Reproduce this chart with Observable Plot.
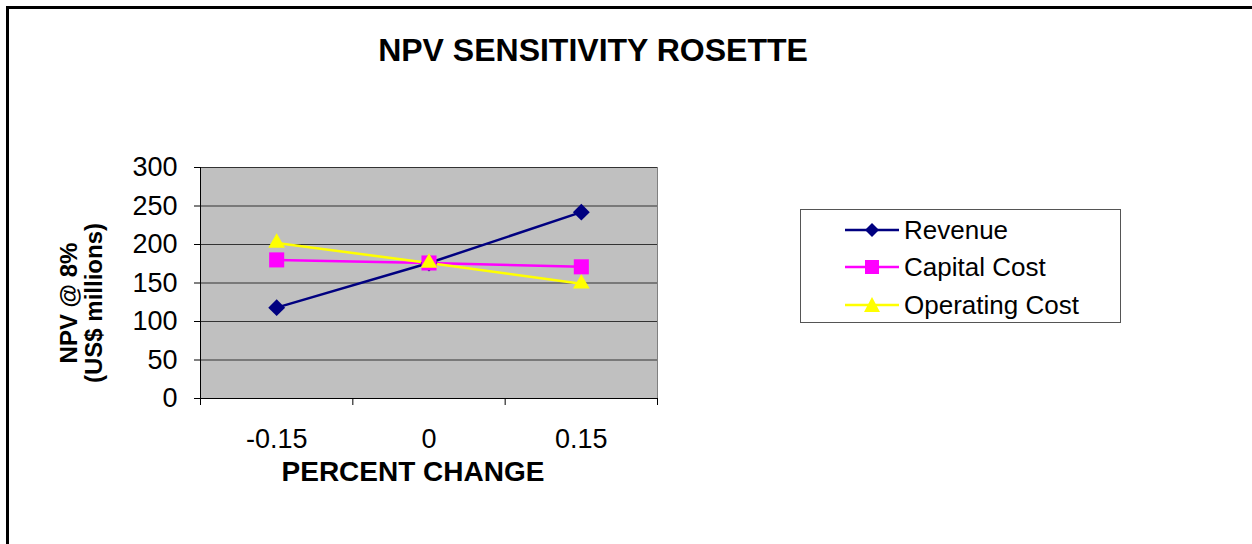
<!DOCTYPE html>
<html>
<head>
<meta charset="utf-8">
<script src="https://cdn.jsdelivr.net/npm/d3@7"></script>
<script src="https://cdn.jsdelivr.net/npm/@observablehq/plot@0.6"></script>
<style>
  html, body { margin: 0; padding: 0; background: #fff; overflow: hidden; }
  body { font-family: "Liberation Sans", Arial, sans-serif; }
  #wrap { position: relative; width: 1252px; height: 544px; }
  #frame { position: absolute; left: 6px; top: 6px; width: 1260px; height: 560px;
           border-left: 3px solid #000; border-top: 3px solid #000; box-sizing: border-box; }
  #chart { position: absolute; left: 0; top: 0; }
  .title { position: absolute; left: 293px; width: 600px; top: 34px; text-align: center;
           font-weight: bold; font-size: 32px; line-height: 32px; white-space: nowrap; }
  .xtitle { position: absolute; left: 213px; width: 400px; top: 458px; text-align: center;
            font-weight: bold; font-size: 28px; line-height: 28px; white-space: nowrap; }
  .ytitle { position: absolute; left: 81px; top: 303px; transform: translate(-50%, -50%) rotate(-90deg);
            font-weight: bold; font-size: 24px; line-height: 25px; text-align: center; white-space: nowrap; }
  #legend { position: absolute; left: 800px; top: 209px; width: 321px; height: 114px;
            border: 1px solid #555; box-sizing: border-box; background: #fff; }
  .item { position: absolute; left: 44px; height: 32px; display: flex; align-items: center;
          font-size: 26px; white-space: nowrap; }
  .item svg { margin-right: 5px; }
</style>
</head>
<body>
<div id="wrap">
  <div id="frame"></div>
  <div id="chart"></div>
  <div class="title">NPV SENSITIVITY ROSETTE</div>
  <div class="xtitle">PERCENT CHANGE</div>
  <div class="ytitle">NPV @ 8%<br>(US$ millions)</div>
  <div id="legend"></div>
</div>
<script>
const categories = [-0.15, 0, 0.15];
const seriesNames = ["Revenue", "Capital Cost", "Operating Cost"];
const revenue = [118, 176, 242];
const capitalCost = [180, 176, 171];
const operatingCost = [202, 176, 149];
const yTicks = [0, 50, 100, 150, 200, 250, 300];

const colors = ["#000080", "#FF00FF", "#FFFF00"];
const symbols = ["diamond2", "square", "triangle"];
const symbolR = [7.6, 8.5, 6.2];
const seriesValues = [revenue, capitalCost, operatingCost];

const data = [];
seriesNames.forEach((s, i) => categories.forEach((c, j) => data.push({series: s, x: c, y: seriesValues[i][j]})));

// band edges halfway between categories
const step = categories[1] - categories[0];
const edges = [categories[0] - step / 2, ...categories.map(c => c + step / 2)];

const plot = Plot.plot({
  width: 1252,
  height: 544,
  marginLeft: 200,
  marginRight: 595,
  marginTop: 167,
  marginBottom: 146,
  style: {fontFamily: "Liberation Sans, Arial, sans-serif", fontSize: "27px", color: "#000", background: "transparent"},
  x: {domain: [edges[0], edges[edges.length - 1]]},
  y: {domain: [0, 300]},
  color: {domain: seriesNames, range: colors},
  marks: [
    Plot.frame({fill: "#C0C0C0", stroke: "#808080"}),
    Plot.gridY(yTicks, {stroke: "#333", strokeOpacity: 1}),
    Plot.ruleX([edges[0]], {stroke: "#000"}),
    Plot.ruleY([0], {stroke: "#000"}),
    Plot.axisY(yTicks, {tickSize: 6, tickPadding: 17, fontSize: 27, label: null, stroke: "#000"}),
    Plot.axisX(edges, {tickSize: 7, tickFormat: () => "", label: null, stroke: "#000"}),
    Plot.axisX(categories, {tickSize: 0, tickPadding: 30, fontSize: 27, label: null, tickFormat: d => String(d)}),
    Plot.line(data, {x: "x", y: "y", z: "series", stroke: "series", strokeWidth: 2.5}),
    ...seriesNames.map((s, i) => Plot.dot(data.filter(d => d.series === s),
      {x: "x", y: "y", symbol: symbols[i], fill: colors[i], r: symbolR[i], stroke: "none"}))
  ]
});
document.getElementById("chart").appendChild(plot);

const legend = document.getElementById("legend");
const tops = [4, 41, 79];
seriesNames.forEach((s, i) => {
  const div = document.createElement("div");
  div.className = "item";
  div.style.top = tops[i] + "px";
  let marker = "";
  if (symbols[i] === "diamond2") marker = `<polygon points="27,9 34,16 27,23 20,16" fill="${colors[i]}"/>`;
  else if (symbols[i] === "square") marker = `<rect x="20" y="9" width="14" height="14" fill="${colors[i]}"/>`;
  else marker = `<polygon points="27,8 35,23 19,23" fill="${colors[i]}"/>`;
  div.innerHTML = `<svg width="54" height="32"><line x1="0" x2="54" y1="16" y2="16" stroke="${colors[i]}" stroke-width="2.5"/>${marker}</svg><span>${s}</span>`;
  legend.appendChild(div);
});
</script>
</body>
</html>
